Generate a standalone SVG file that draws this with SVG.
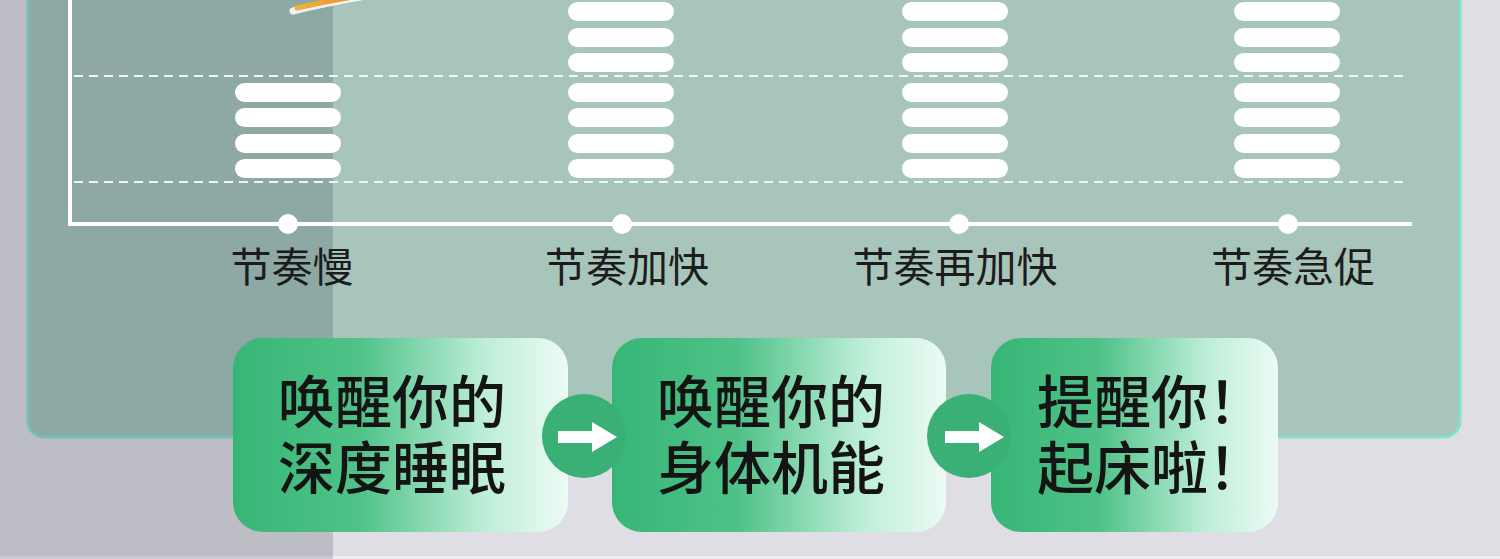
<svg xmlns="http://www.w3.org/2000/svg" width="1500" height="559" viewBox="0 0 1500 559">
<defs>
<linearGradient id="boxGrad" x1="0" y1="0" x2="1" y2="0">
<stop offset="0" stop-color="#36b676"/>
<stop offset="0.38" stop-color="#50c289"/>
<stop offset="0.75" stop-color="#bdeed7"/>
<stop offset="1" stop-color="#ecfbf5"/>
</linearGradient>
<linearGradient id="streak" x1="0" y1="0" x2="1" y2="0">
<stop offset="0" stop-color="#f2b13a"/>
<stop offset="1" stop-color="#e8892a"/>
</linearGradient>
</defs>
<style>
.pill{fill:#ffffff;}
.dash{stroke:#eef6f3;stroke-width:2;stroke-dasharray:9 6;fill:none;}
.axis{stroke:#ffffff;stroke-width:4;fill:none;}
.dot{fill:#ffffff;}
.lbl{font-family:"Noto Sans CJK SC","Noto Sans",sans-serif;font-size:41px;fill:#1c1c1c;text-anchor:middle;}
.box{fill:url(#boxGrad);}
.btxt{font-family:"Noto Sans CJK SC","Noto Sans",sans-serif;font-size:57px;font-weight:500;fill:#141414;}
.circ{fill:#3ab077;}
.arr{fill:#ffffff;}
</style>
<rect x="0" y="0" width="1500" height="559" fill="#e0dee5"/>
<rect x="0" y="556" width="1500" height="3" fill="#efeff3"/>
<rect id="panel" x="28" y="-30" width="1432" height="467" rx="16" fill="#a8c5bc" stroke="#84e2ca" stroke-width="3"/>
<rect id="shade" x="0" y="0" width="333" height="559" fill="#10202a" fill-opacity="0.17"/>
<g id="chart">
<path class="dash" d="M74 76H1404M74 182H1404"/>
<path class="axis" d="M70 0V224H1412"/>
<g id="streak-line">
<path d="M293 11 Q330 2 372 -5" stroke="#ffffff" stroke-width="7" stroke-linecap="round" fill="none" opacity="0.85"/>
<path d="M297 8 Q332 0 372 -6" stroke="url(#streak)" stroke-width="5" stroke-linecap="round" fill="none"/>
</g>
</g>
<g id="bars-slow">
<rect class="pill" x="235" y="83" width="106" height="19" rx="9.5"/>
<rect class="pill" x="235" y="108" width="106" height="19" rx="9.5"/>
<rect class="pill" x="235" y="134" width="106" height="19" rx="9.5"/>
<rect class="pill" x="235" y="159" width="106" height="19" rx="9.5"/>
</g>
<g id="bars-faster">
<rect class="pill" x="568" y="2" width="106" height="19" rx="9.5"/>
<rect class="pill" x="568" y="28" width="106" height="19" rx="9.5"/>
<rect class="pill" x="568" y="53" width="106" height="19" rx="9.5"/>
<rect class="pill" x="568" y="83" width="106" height="19" rx="9.5"/>
<rect class="pill" x="568" y="108" width="106" height="19" rx="9.5"/>
<rect class="pill" x="568" y="134" width="106" height="19" rx="9.5"/>
<rect class="pill" x="568" y="159" width="106" height="19" rx="9.5"/>
</g>
<g id="bars-even-faster">
<rect class="pill" x="902" y="2" width="106" height="19" rx="9.5"/>
<rect class="pill" x="902" y="28" width="106" height="19" rx="9.5"/>
<rect class="pill" x="902" y="53" width="106" height="19" rx="9.5"/>
<rect class="pill" x="902" y="83" width="106" height="19" rx="9.5"/>
<rect class="pill" x="902" y="108" width="106" height="19" rx="9.5"/>
<rect class="pill" x="902" y="134" width="106" height="19" rx="9.5"/>
<rect class="pill" x="902" y="159" width="106" height="19" rx="9.5"/>
</g>
<g id="bars-rapid">
<rect class="pill" x="1234" y="2" width="106" height="19" rx="9.5"/>
<rect class="pill" x="1234" y="28" width="106" height="19" rx="9.5"/>
<rect class="pill" x="1234" y="53" width="106" height="19" rx="9.5"/>
<rect class="pill" x="1234" y="83" width="106" height="19" rx="9.5"/>
<rect class="pill" x="1234" y="108" width="106" height="19" rx="9.5"/>
<rect class="pill" x="1234" y="134" width="106" height="19" rx="9.5"/>
<rect class="pill" x="1234" y="159" width="106" height="19" rx="9.5"/>
</g>
<g id="tick-slow"><circle class="dot" cx="288" cy="224" r="10"/><text class="lbl" x="292" y="282">节奏慢</text></g>
<g id="tick-faster"><circle class="dot" cx="622" cy="224" r="10"/><text class="lbl" x="627" y="282">节奏加快</text></g>
<g id="tick-even-faster"><circle class="dot" cx="959" cy="224" r="10"/><text class="lbl" x="955" y="282">节奏再加快</text></g>
<g id="tick-rapid"><circle class="dot" cx="1288" cy="224" r="10"/><text class="lbl" x="1293" y="282">节奏急促</text></g>
<g id="box1">
<rect class="box" x="233" y="338" width="335" height="194" rx="30"/>
<text class="btxt"><tspan x="278" y="423">唤醒你的</tspan><tspan x="278" y="489">深度睡眠</tspan></text>
</g>
<g id="box2">
<rect class="box" x="612" y="338" width="334" height="194" rx="30"/>
<text class="btxt"><tspan x="657" y="423">唤醒你的</tspan><tspan x="657" y="489">身体机能</tspan></text>
</g>
<g id="box3">
<rect class="box" x="991" y="338" width="287" height="194" rx="30"/>
<text class="btxt"><tspan x="1037" y="423">提醒你！</tspan><tspan x="1037" y="489">起床啦！</tspan></text>
</g>
<g id="connectors">
<circle class="circ" cx="584" cy="436" r="42"/>
<polygon class="arr" points="558,431 592,431 592,422 617,437 592,452 592,443 558,443"/>
<circle class="circ" cx="969" cy="436" r="42"/>
<polygon class="arr" points="945,431 979,431 979,422 1004,437 979,452 979,443 945,443"/>
</g>
</svg>
